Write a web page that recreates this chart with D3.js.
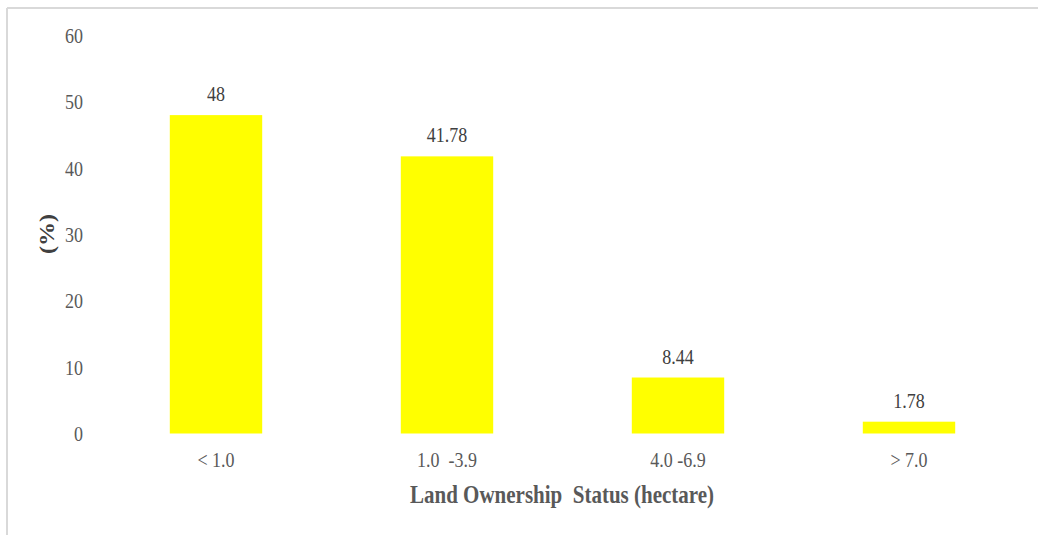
<!DOCTYPE html>
<html><head><meta charset="utf-8">
<script src="https://cdn.jsdelivr.net/npm/d3@7"></script>
<style>html,body{margin:0;padding:0;background:#fff;}svg{display:block;}</style>
</head><body>
<svg id="c" width="1038" height="535"></svg>
<script>
const categories = ["< 1.0", "1.0  -3.9", "4.0 -6.9", "> 7.0"];
const values = [48, 41.78, 8.44, 1.78];
const valueLabels = ["48", "41.78", "8.44", "1.78"];
const yTicks = [0, 10, 20, 30, 40, 50, 60];

const svg = d3.select("#c");
const font = "'Liberation Serif','Times New Roman',serif";
const stretch = "scale(1,1.2)";

// frame lines
svg.append("line").attr("x1",7).attr("x2",1038).attr("y1",8).attr("y2",8).attr("stroke","#d9d9d9").attr("stroke-width",2);
svg.append("line").attr("x1",7).attr("x2",7).attr("y1",8).attr("y2",535).attr("stroke","#d9d9d9").attr("stroke-width",2);

const x = d3.scaleBand().domain(categories).range([100.5, 1024.5]).paddingInner(0.6).paddingOuter(0.3);
const y = d3.scaleLinear().domain([0, 60]).range([433.5, 35.5]);

// y axis (labels only)
const yAxis = d3.axisLeft(y).tickValues(yTicks).tickSize(0).tickPadding(0).tickFormat(d3.format("d"));
const gy = svg.append("g").attr("transform","translate(83,0)").call(yAxis);
gy.select(".domain").remove();
gy.selectAll("text").attr("font-family",font).attr("font-size",18).attr("fill","#595959").attr("dy","0.33em").attr("transform",stretch);

// x axis labels
const xAxis = d3.axisBottom(x).tickSize(0).tickPadding(0);
const gx = svg.append("g").attr("transform","translate(0,460)").call(xAxis);
gx.select(".domain").remove();
gx.selectAll("text").attr("font-family",font).attr("font-size",18).attr("fill","#595959").attr("dy","0.33em").attr("transform",stretch).style("white-space","pre");

// bars
svg.selectAll("rect.bar").data(values).join("rect").attr("class","bar")
  .attr("x",(d,i)=>x(categories[i])).attr("width",x.bandwidth())
  .attr("y",d=>y(d)).attr("height",d=>y(0)-y(d)).attr("fill","#ffff00");

// value labels
svg.selectAll("text.val").data(values).join("text").attr("class","val")
  .attr("transform",(d,i)=>`translate(${x(categories[i])+x.bandwidth()/2},${y(d)-21}) ${stretch}`)
  .attr("dy","0.33em").attr("text-anchor","middle")
  .attr("font-family",font).attr("font-size",18).attr("fill","#404040")
  .text((d,i)=>valueLabels[i]);

// axis titles
svg.append("text").attr("transform",`translate(562,495) ${stretch}`).attr("dy","0.33em").attr("text-anchor","middle")
  .attr("font-family",font).attr("font-size",21).attr("font-weight","bold").attr("fill","#595959")
  .text("Land Ownership  Status (hectare)").style("white-space","pre");
svg.append("text").attr("transform","translate(47,234) rotate(-90) scale(1.2,1)").attr("dy","0.33em").attr("text-anchor","middle")
  .attr("font-family",font).attr("font-size",20).attr("font-weight","bold").attr("fill","#404040")
  .text("(%)");
</script>
</body></html>
